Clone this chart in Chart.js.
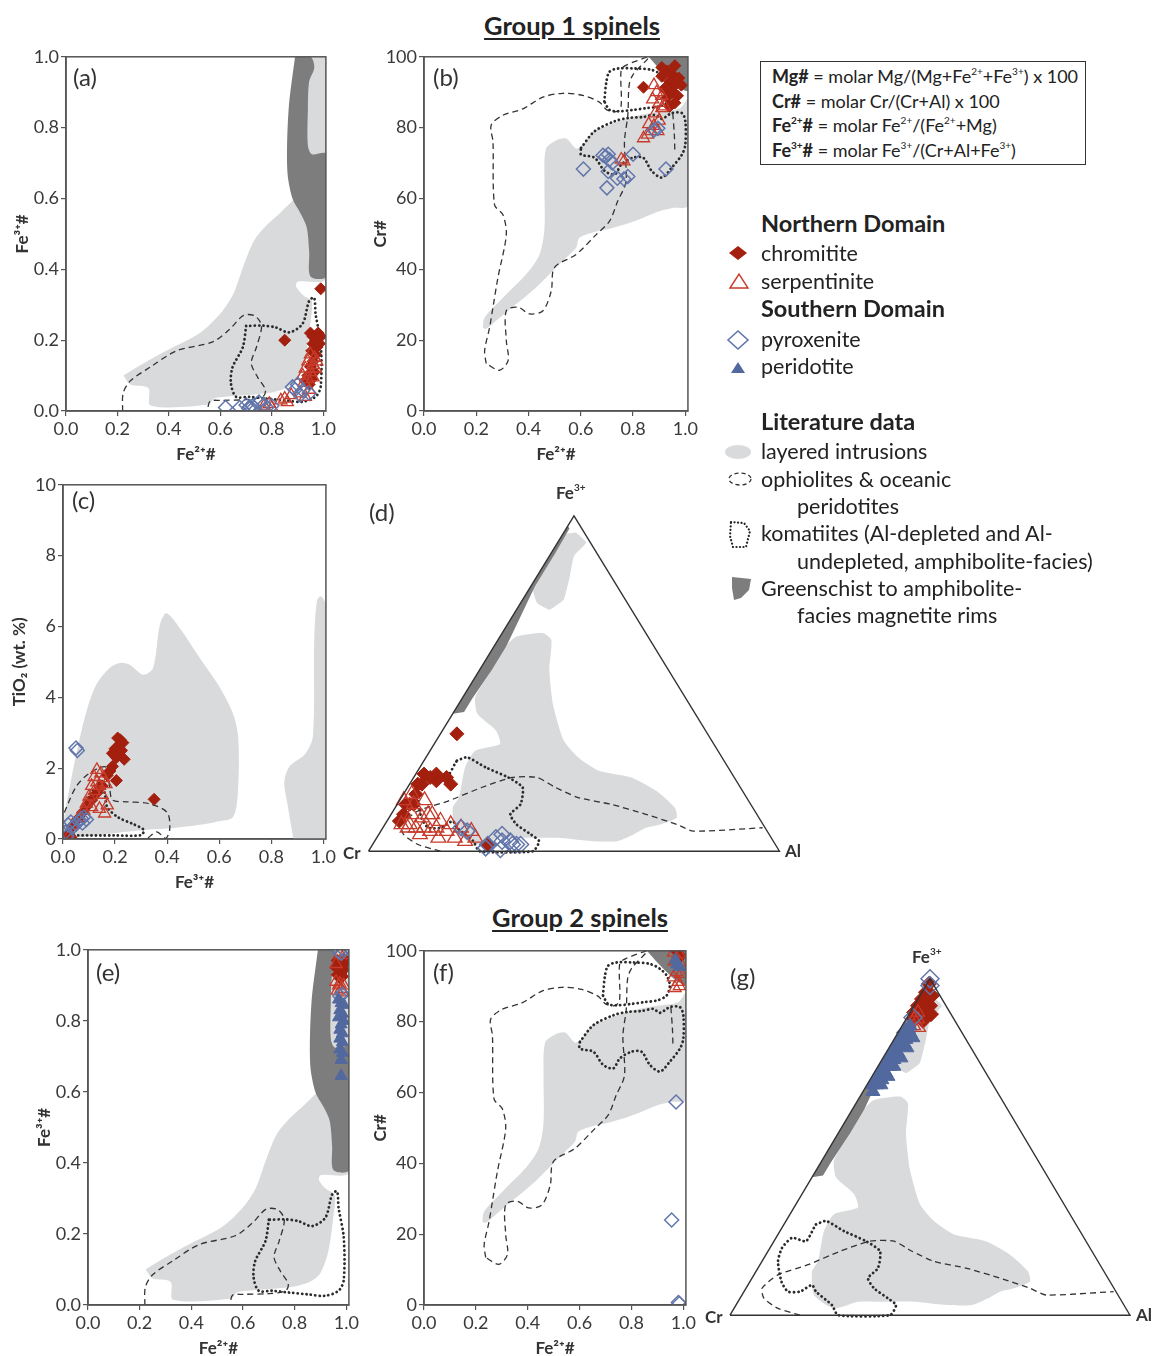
<!DOCTYPE html>
<html>
<head>
<meta charset="utf-8">
<script src="https://cdn.jsdelivr.net/npm/chart.js@4.4.1/dist/chart.umd.min.js"></script>
<style>
body{margin:0;background:#fff;width:1154px;height:1356px;position:relative;overflow:hidden;font-family:Lato,"Open Sans",sans-serif;color:#222}
canvas{position:absolute}
.t{position:absolute;white-space:nowrap}
.head{font-weight:700;font-size:25.5px;text-decoration:underline;text-underline-offset:3px;text-align:center;width:260px}
.lab{font-size:24px;color:#333}
.vx{font-weight:700;font-size:17px;color:#333}
.lg{font-size:21.5px;line-height:26px;left:761px}
.lg.b{font-weight:700;font-size:23.5px}
.lg.in{left:797px}
sup{font-size:10px;line-height:0;vertical-align:8px}
</style>
</head>
<body>

<div class="t head" style="left:442px;top:10px">Group 1 spinels</div>
<div class="t head" style="left:450px;top:902px">Group 2 spinels</div>

<canvas id="ca"></canvas>
<canvas id="cb"></canvas>
<canvas id="cc"></canvas>
<canvas id="cd"></canvas>
<canvas id="ce"></canvas>
<canvas id="cf"></canvas>
<canvas id="cg"></canvas>

<div class="t lab" style="left:73px;top:62px">(a)</div>
<div class="t lab" style="left:433px;top:62px">(b)</div>
<div class="t lab" style="left:72px;top:485px">(c)</div>
<div class="t lab" style="left:369px;top:497px">(d)</div>
<div class="t lab" style="left:96px;top:957px">(e)</div>
<div class="t lab" style="left:433px;top:957px">(f)</div>
<div class="t lab" style="left:730px;top:962px">(g)</div>

<div class="t vx" style="left:556px;top:482px">Fe<sup>3+</sup></div>
<div class="t vx" style="left:343px;top:842px">Cr</div>
<div class="t vx" style="left:785px;top:840px">Al</div>
<div class="t vx" style="left:912px;top:946px">Fe<sup>3+</sup></div>
<div class="t vx" style="left:705px;top:1306px">Cr</div>
<div class="t vx" style="left:1136px;top:1304px">Al</div>

<div class="t" style="left:760px;top:61px;width:326px;height:104px;border:1.3px solid #333;box-sizing:border-box">
  <div style="position:absolute;left:11px;top:2px;font-size:18px;line-height:24.5px">
    <b>Mg#</b> = molar Mg/(Mg+Fe<sup>2+</sup>+Fe<sup>3+</sup>) x 100<br>
    <b>Cr#</b> = molar Cr/(Cr+Al) x 100<br>
    <b>Fe<sup>2+</sup>#</b> = molar Fe<sup>2+</sup>/(Fe<sup>2+</sup>+Mg)<br>
    <b>Fe<sup>3+</sup>#</b> = molar Fe<sup>3+</sup>/(Cr+Al+Fe<sup>3+</sup>)
  </div>
</div>

<div class="t lg b" style="top:210px">Northern Domain</div>
<div class="t lg" style="top:240px">chromitite</div>
<div class="t lg" style="top:268px">serpentinite</div>
<div class="t lg b" style="top:295px">Southern Domain</div>
<div class="t lg" style="top:326px">pyroxenite</div>
<div class="t lg" style="top:353px">peridotite</div>
<div class="t lg b" style="top:408px">Literature data</div>
<div class="t lg" style="top:438px">layered intrusions</div>
<div class="t lg" style="top:466px">ophiolites &amp; oceanic</div>
<div class="t lg in" style="top:493px">peridotites</div>
<div class="t lg" style="top:520px">komatiites (Al-depleted and Al-</div>
<div class="t lg in" style="top:548px">undepleted, amphibolite-facies)</div>
<div class="t lg" style="top:575px">Greenschist to amphibolite-</div>
<div class="t lg in" style="top:602px">facies magnetite rims</div>

<svg style="position:absolute;left:720px;top:240px" width="40" height="370">
  <polygon points="9,13 18,6 27,13 18,20" fill="#a31f0e"/>
  <polygon points="10,48 19,34 28,48" fill="none" stroke="#c63b2b" stroke-width="1.4"/>
  <polygon points="8,100 18,91 28,100 18,109" fill="none" stroke="#6276ab" stroke-width="1.6"/>
  <polygon points="11,133 18,122 25,133" fill="#52699f"/>
  <ellipse cx="18" cy="212" rx="13" ry="7" fill="#d9dadb"/>
  <ellipse cx="20" cy="239" rx="11" ry="6" fill="none" stroke="#333" stroke-width="1.3" stroke-dasharray="4 3"/>
  <path d="M11,282 L24,283 L30,291 L26,307 L13,307 L10,296 Z" fill="none" stroke="#222" stroke-width="2.2" stroke-dasharray="0.1 3.4" stroke-linecap="round"/>
  <path d="M12,337 L31,339 L29,350 L21,358 L14,360 L12,348 Z" fill="#7d7d7d"/>
</svg>

<script>
// ---- tick values and labels
const FE_TICKS = [0, 0.2, 0.4, 0.6, 0.8, 1.0];
const FE_LABELS = ['0.0', '0.2', '0.4', '0.6', '0.8', '1.0'];
const CR_TICKS = [0, 20, 40, 60, 80, 100];
const CR_LABELS = ['0', '20', '40', '60', '80', '100'];
const TI_TICKS = [0, 2, 4, 6, 8, 10];
const TI_LABELS = ['0', '2', '4', '6', '8', '10'];

// ---- literature fields, Fe2+# vs Fe3+# (a, e)
const feLayered = [[0.223,0.10],[0.29,0.13],[0.39,0.17],[0.52,0.22],[0.60,0.275],[0.65,0.33],[0.69,0.41],[0.73,0.48],[0.78,0.525],[0.84,0.565],[0.90,0.62],[0.91,1.0],[1.01,1.0],[1.01,0.375],[0.90,0.365],[0.895,0.35],[0.925,0.325],[0.955,0.31],[0.95,0.25],[0.93,0.15],[0.90,0.09],[0.87,0.07],[0.83,0.058],[0.78,0.05],[0.70,0.045],[0.62,0.04],[0.575,0.035],[0.555,0.018],[0.33,0.015],[0.32,0.065],[0.25,0.075]];
const feDark = [[0.89,1.0],[0.95,1.0],[0.965,0.97],[0.945,0.93],[0.94,0.85],[0.94,0.75],[0.955,0.725],[1.01,0.725],[1.01,0.38],[0.95,0.38],[0.945,0.45],[0.935,0.52],[0.91,0.56],[0.88,0.60],[0.86,0.68],[0.865,0.85]];
const feOphiolite = [[0.22,0.0],[0.222,0.05],[0.25,0.085],[0.33,0.125],[0.43,0.17],[0.57,0.195],[0.635,0.23],[0.69,0.27],[0.735,0.268],[0.76,0.24],[0.74,0.18],[0.72,0.135],[0.745,0.095],[0.775,0.06],[0.765,0.04],[0.70,0.032],[0.60,0.03],[0.56,0.028],[0.55,0.005]];
const feKomatiite = [[0.70,0.24],[0.687,0.18],[0.647,0.123],[0.641,0.078],[0.661,0.04],[0.713,0.04],[0.78,0.035],[0.85,0.03],[0.918,0.026],[0.97,0.04],[0.99,0.07],[0.99,0.19],[0.97,0.274],[0.964,0.32],[0.945,0.311],[0.919,0.246],[0.867,0.222],[0.815,0.236],[0.764,0.241]];

// ---- literature fields, Fe2+# vs Cr# (b, f)
const crLayered = [[0.225,23.6],[0.232,26.4],[0.302,32],[0.391,38.6],[0.442,44.2],[0.461,51.7],[0.461,64.8],[0.467,74.1],[0.506,76.4],[0.544,76.9],[0.582,74.1],[0.607,75],[0.646,78.8],[0.70,80.5],[0.773,82.5],[0.85,83.9],[0.90,84.5],[0.98,85.5],[1.01,88],[1.01,58],[0.952,57.3],[0.90,56.4],[0.837,54.5],[0.786,53.1],[0.722,51.7],[0.659,50.7],[0.595,48.9],[0.582,46.1],[0.544,43.3],[0.48,38.6],[0.429,34.9],[0.353,30.2],[0.276,25.5],[0.238,23.2]];
const crDark = [[0.86,100],[1.01,100],[1.01,90.5],[0.975,91.5],[0.94,93.7],[0.89,97.5]];
const crOphiolite = [[0.238,13.4],[0.232,17],[0.251,23.6],[0.264,29.3],[0.283,37.7],[0.315,49.8],[0.302,55.4],[0.27,58.2],[0.264,76],[0.257,80.7],[0.302,83.5],[0.378,85.3],[0.455,88.6],[0.531,89.7],[0.608,89.1],[0.671,87.2],[0.70,85],[0.735,84.5],[0.754,86],[0.754,96],[0.77,97.5],[0.86,100],[0.80,95],[0.785,92],[0.78,83.5],[0.767,76],[0.773,64.8],[0.741,59.2],[0.71,53.6],[0.659,49.8],[0.582,44.2],[0.499,40.5],[0.487,33.9],[0.455,28.3],[0.404,27.4],[0.36,29.3],[0.315,28.3],[0.315,19.9],[0.322,14.3],[0.289,11.5]];
const crOphioliteB = [[0.952,84],[0.958,78],[0.96,73]];
const crKomatiiteA = [[0.69,87.4],[0.698,93],[0.71,95.8],[0.743,96.7],[0.807,96.7],[0.871,96.3],[0.91,94.9],[0.936,93],[0.948,90.2],[0.936,87.4],[0.90,86],[0.85,85.5],[0.80,85],[0.743,84.6],[0.71,85]];
const crKomatiiteB = [[0.601,74.3],[0.653,79],[0.73,81.8],[0.781,82.7],[0.84,83],[0.884,83.6],[0.91,82.5],[0.948,84.1],[0.987,84.1],[1.0,81.8],[1.0,75.2],[0.987,72.4],[0.948,68.7],[0.91,65.9],[0.871,67.8],[0.839,71.5],[0.80,71.5],[0.755,69.6],[0.73,66.8],[0.691,67.8],[0.653,71.5],[0.601,72.4]];

// ---- literature fields, Fe3+# vs TiO2 (c)
const tiLayered = [[0.0,0.0],[0.005,0.63],[0.026,1.47],[0.051,2.4],[0.09,3.6],[0.128,4.36],[0.179,4.83],[0.218,4.97],[0.256,4.92],[0.308,4.64],[0.346,4.83],[0.372,6.04],[0.397,6.37],[0.449,5.95],[0.526,5.1],[0.603,4.27],[0.654,3.52],[0.673,2.87],[0.673,1.47],[0.654,0.63],[0.59,0.49],[0.526,0.40],[0.423,0.31],[0.321,0.26],[0.205,0.17],[0.09,0.07],[0.013,0.0]];
const tiLayeredB = [[0.885,0],[0.862,1.0],[0.85,1.6],[0.87,2.05],[0.93,2.4],[0.96,2.9],[0.965,5.6],[0.975,6.7],[0.99,6.85],[1.01,6.6],[1.01,0]];
const tiOphiolite = [[0.005,0.75],[0.05,1.47],[0.1,1.85],[0.165,2.03],[0.18,1.4],[0.19,1.1],[0.245,1.05],[0.33,1.0],[0.4,0.75],[0.41,0.28],[0.395,0.02],[0.36,0.2],[0.325,0.02]];
const tiKomatiite = [[0.01,0.1],[0.05,0.6],[0.1,1.2],[0.14,1.6],[0.16,1.3],[0.17,0.9],[0.21,0.62],[0.27,0.42],[0.31,0.26],[0.30,0.11],[0.2,0.1],[0.05,0.1]];

// ---- literature fields, ternary Cr-Al-Fe3+ (d, g), [Cr, Al, Fe3+]
const ternTriangle = [[100,0,0],[0,100,0],[0,0,100],[100,0,0]];
const ternLayered = [[35,3,62],[32,4,64],[25,10,65],[24,13,63],[29,17,54],[33,23,43],[36,31,33],[35,37,28],[32,44,24],[25,53,22],[21,61,18],[19,68,13],[20,70,10],[25,67,8],[29,64,7],[33,62,5],[38,59,3],[44,53,3],[52,44,4],[60,36,4],[66,30,4],[73,25,2],[76,18,6],[73,14,13],[70,14,16],[64,11,25],[59,11,30],[52,16,32],[51,13,36],[53,6,41],[51,3,46],[43,3,54]];
const ternLayeredB = [[2,3,95],[1,7,92],[6,6,88],[10,8,82],[15,10,75],[20,8,72],[22,4,74],[21,1,78],[12,0.5,87.5],[5,0.5,94.5]];
const ternDark = [[3,0,97],[3,0.8,96.2],[10,1,89],[20,1,79],[28,2,70],[36,3,61],[43,3,54],[52,2.5,45.5],[56,2.5,41.5],[59,0,41]];
const ternOphiolite = [[82.5,17.5,0],[87,11,2],[89,6,5],[88,4,8],[82,6,12],[73,12,15],[63,18,19],[54,24,22],[48,30,22],[45,36,19],[41,43,16],[34,52,14],[27,62,11],[21,71,8],[18,76,6],[0.6,92.4,7]];
const ternKomatiite = [[65,8,27],[62,10,28],[59,16,25],[55,23,22],[53,28,19],[56,30,14],[60,29,11],[60,32,8],[58,37,5],[57,40,3],[60,40,0],[73,27,0],[73,24,3],[75,18,7],[75,16,9],[79,14,7],[82,11,7],[83,8,10],[80,4,16],[77,3,20],[73,4,23],[70,8,22],[66,8,26]];

// ---- samples, group 1
const aChromitite = [[0.85,0.20],[0.99,0.345],[0.95,0.22],[0.96,0.21],[0.97,0.20],[0.98,0.22],[0.99,0.21],[0.96,0.19],[0.975,0.18],[0.985,0.19],[0.955,0.17],[0.97,0.16],[0.96,0.14],[0.95,0.125],[0.965,0.11],[0.94,0.10],[0.955,0.09],[0.945,0.075],[0.93,0.085]];
const aSerpentinite = [[0.95,0.16],[0.965,0.15],[0.94,0.14],[0.96,0.13],[0.975,0.14],[0.93,0.12],[0.95,0.11],[0.97,0.12],[0.92,0.10],[0.94,0.09],[0.96,0.095],[0.925,0.08],[0.945,0.06],[0.91,0.05],[0.93,0.04],[0.875,0.045],[0.85,0.035],[0.835,0.03],[0.86,0.025],[0.79,0.02],[0.77,0.015],[0.80,0.01]];
const aPyroxenite = [[0.62,0.01],[0.675,0.01],[0.70,0.017],[0.71,0.008],[0.715,0.012],[0.725,0.015],[0.73,0.01],[0.75,0.025],[0.77,0.018],[0.78,0.01],[0.80,0.015],[0.88,0.068],[0.90,0.075],[0.89,0.06],[0.92,0.058],[0.945,0.05],[0.91,0.045]];

const bChromitite = [[0.84,91.4],[0.91,97],[0.93,96],[0.95,95],[0.96,97.5],[0.94,93],[0.96,92],[0.975,94],[0.92,91],[0.95,90],[0.97,89],[0.93,88.5],[0.96,87],[0.91,94.5],[0.985,92],[0.94,86]];
const bSerpentinite = [[0.88,92],[0.89,90],[0.875,88],[0.90,87],[0.91,85.5],[0.885,84],[0.90,82],[0.88,80.5],[0.87,79],[0.855,78],[0.84,77],[0.91,89],[0.92,86],[0.755,71],[0.765,70.5],[0.86,81],[0.895,79]];
const bPyroxenite = [[0.61,68.3],[0.685,72.2],[0.695,71.8],[0.705,72.5],[0.71,71],[0.80,72.5],[0.705,67.6],[0.70,63],[0.74,65.7],[0.765,65.5],[0.78,66.2],[0.926,68.3],[0.88,79.3],[0.895,79.8],[0.72,70]];

const cChromitite = [[0.21,2.85],[0.22,2.8],[0.23,2.72],[0.215,2.65],[0.2,2.55],[0.225,2.5],[0.19,2.42],[0.205,2.3],[0.235,2.25],[0.19,2.05],[0.18,1.92],[0.205,1.65],[0.35,1.12],[0.17,1.8],[0.15,1.5],[0.13,1.3],[0.11,1.1],[0.09,0.92],[0.075,0.75],[0.055,0.55],[0.035,0.35],[0.02,0.15],[0.03,0.05]];
const cSerpentinite = [[0.13,1.95],[0.145,1.85],[0.12,1.75],[0.155,1.72],[0.13,1.6],[0.11,1.5],[0.14,1.5],[0.165,1.55],[0.12,1.35],[0.1,1.2],[0.15,1.25],[0.09,1.0],[0.11,0.9],[0.14,0.85],[0.16,0.72],[0.08,0.8],[0.06,0.6],[0.04,0.4],[0.02,0.05],[0.17,0.95]];
const cPyroxenite = [[0.05,2.57],[0.055,2.5],[0.02,0.4],[0.03,0.48],[0.04,0.35],[0.06,0.5],[0.07,0.58],[0.08,0.62],[0.09,0.55],[0.01,0.2],[0.015,0.08],[0.05,0.42],[0.075,0.45]];

const dChromitite = [[61,4,35],[75,2,23],[72,5,23],[70,8,22],[70,10,20],[77,3,20],[80,3,17],[83,3,14],[86,3,11],[88,3,9],[70,28,2],[73,6,21],[82,4,14],[74,4,22],[78,2,20],[84,2,14]];
const dSerpentinite = [[83,1,15],[82,4,14],[78,6,15],[84,5,11],[82,8,10],[79,10,11],[78,13,9],[76,16,8],[88,4,8],[85,8,7],[82,12,6],[78,16,6],[74,19,7],[72,22,6],[77,19,4],[72,24,4],[75,22,3],[85,10,5],[81,15,4],[81,2,17],[86,6,8],[80,9,11],[87,6,7],[83,10,7],[80,13,7]];
const dPyroxenite = [[74,19,7],[73,21,6],[71,28,1],[67,29,4],[65,30,5],[64,33,3],[62,36,2],[68,32,0.5],[70,28,2],[64,34,2],[63,35,2],[66,31,3]];

// ---- samples, group 2
const eChromitite = [[0.965,0.97],[0.975,0.96],[0.985,0.955],[0.97,0.945],[0.98,0.935],[0.99,0.945],[0.965,0.93],[0.975,0.92],[0.985,0.925],[0.995,0.965],[0.96,0.95],[0.99,0.975]];
const eSerpentinite = [[0.96,0.91],[0.97,0.90],[0.98,0.89],[0.99,0.90],[0.965,0.885],[0.985,0.88],[0.975,0.99],[0.99,0.985],[0.96,0.96],[0.975,0.905]];
const ePyroxenite = [[0.97,0.995],[0.98,0.99],[0.99,1.0],[0.975,0.87],[0.985,0.875]];
const ePeridotite = [[0.97,0.86],[0.98,0.85],[0.99,0.845],[0.975,0.83],[0.985,0.82],[0.97,0.81],[0.99,0.80],[0.98,0.79],[0.975,0.775],[0.985,0.765],[0.975,0.75],[0.985,0.74],[0.975,0.72],[0.985,0.71],[0.98,0.69],[0.98,0.645]];

const fChromitite = [[0.975,99.8],[0.99,98.5]];
const fSerpentinite = [[0.962,99.5],[0.985,99],[0.987,96.7],[0.965,97],[0.974,94],[0.99,93.5],[0.962,92.5],[0.98,91.2],[0.968,89.5],[0.985,90]];
const fPyroxenite = [[0.972,57.3],[0.955,24],[0.981,0.7],[0.985,0.4]];
const fPeridotite = [[0.97,97.5],[0.985,95.5],[0.975,96.2]];

const gChromitite = [[1,0.5,98.5],[3,1,96],[4,2,94],[5,1,94],[6,2,92],[7,1,92],[8,2,90],[9,1,90],[5,3,92],[10,2,88],[3,2.5,94.5],[7,3,90],[4,4,92],[6,4.5,89.5],[8,4.5,87.5],[2,3,95],[5,5.5,89.5]];
const gSerpentinite = [[8,2,90],[9,3,88],[10,2,88],[11,3,86],[12,2,86],[10,4.5,85.5]];
const gPyroxenite = [[0,0,100],[1,1,98],[10,1.5,88.5],[14,2,84]];
const gPeridotite = [[12,2,86],[13,3,84],[14,1.5,84.5],[15,3,82],[16,1.5,82.5],[17,3,80],[18,1.5,80.5],[19,3,78],[20,1.5,78.5],[21,3,76],[22,1.5,76.5],[23,3,74],[24,1.5,74.5],[25,3,72],[26,1.5,72.5],[27,3,70],[28,1.5,70.5],[29,2.5,68.5],[30,1.5,68.5],[13,4.5,82.5],[16,4.5,79.5],[19,4.5,76.5],[22,4,74],[25,4,71],[28,3.5,68.5],[31,2.5,66.5]];

// ---- colours
const C_CHROM = '#a31f0e', C_SERP = '#c63b2b', C_PYRO = '#6276ab', C_PERI = '#52699f';
const C_LIGHT = '#d9dadb', C_DARK = '#7d7d7d', C_LINE = '#2b2b2b';

const xy = a => a.map(p => ({x: p[0], y: p[1]}));
const tern = a => a.map(p => { const s = p[0] + p[1] + p[2]; return {x: (p[1] + p[2] / 2) / s, y: p[2] / s}; });
const closed = a => a.concat([a[0]]);

function area(data, color, order, tension) {
  return {type: 'line', data, fill: 'shape', backgroundColor: color, borderWidth: 0, pointRadius: 0, tension: tension, order};
}
function dashed(data, order, tension) {
  return {type: 'line', data, fill: false, borderColor: '#333', borderWidth: 1.3, borderDash: [6, 4], pointRadius: 0, tension: tension, order};
}
function dotted(data, order, tension) {
  return {type: 'line', data, fill: false, borderColor: C_LINE, borderWidth: 2.8, borderDash: [0.1, 4.3], borderCapStyle: 'round', pointRadius: 0, tension: tension, order};
}
function chromitite(data, r) { return {data, pointStyle: 'rectRot', pointRadius: r || 6, backgroundColor: C_CHROM, borderColor: C_CHROM, borderWidth: 1, order: 4}; }
function serpentinite(data, r) { return {data, pointStyle: 'triangle', pointRadius: r || 7, backgroundColor: 'rgba(0,0,0,0)', borderColor: C_SERP, borderWidth: 1.3, order: 3}; }
function pyroxenite(data, r) { return {data, pointStyle: 'rectRot', pointRadius: r || 7, backgroundColor: 'rgba(0,0,0,0)', borderColor: C_PYRO, borderWidth: 1.5, order: 2}; }
function peridotite(data, r) { return {data, pointStyle: 'triangle', pointRadius: r || 7, backgroundColor: C_PERI, borderColor: C_PERI, borderWidth: 1, order: 1}; }

// outer frame on all 4 sides
const framePlugin = {
  id: 'frame',
  afterDatasetsDraw(chart) {
    const {ctx, chartArea: a} = chart;
    ctx.save();
    ctx.strokeStyle = '#555';
    ctx.lineWidth = 1.5;
    ctx.strokeRect(a.left, a.top, a.right - a.left, a.bottom - a.top);
    ctx.restore();
  }
};

function axis(pos, min, max, ticks, labels, title) {
  return {
    type: 'linear', position: pos, min, max,
    afterBuildTicks: s => { s.ticks = ticks.map(v => ({value: v})); },
    afterFit: s => { if (pos === 'bottom') s.height = 55; else s.width = 56; },
    ticks: {callback: (v, i) => labels[i], font: {family: 'Lato', size: 18}, color: '#3a3a3a', padding: 2, autoSkip: false, maxRotation: 0},
    grid: {display: true, drawOnChartArea: false, drawTicks: true, tickLength: 5, color: '#555', lineWidth: 1.2},
    border: {display: true, color: '#555', width: 1.5},
    title: {display: true, text: title, font: {family: 'Lato', size: 17, weight: 'bold'}, color: '#333', padding: {top: 2, bottom: 1}}
  };
}

function cartChart(id, box, xAxis, yAxis, datasets) {
  const cv = document.getElementById(id);
  cv.width = box.r - box.l + 56 + 12;
  cv.height = box.b - box.t + 10 + 55;
  cv.style.left = (box.l - 56) + 'px';
  cv.style.top = (box.t - 10) + 'px';
  new Chart(cv, {
    type: 'scatter',
    data: {datasets},
    options: {
      responsive: false, animation: false,
      layout: {autoPadding: false, padding: {top: 10, right: 12, left: 0, bottom: 0}},
      scales: {x: xAxis, y: yAxis},
      plugins: {legend: {display: false}, tooltip: {enabled: false}}
    },
    plugins: [framePlugin]
  });
}

// box: Cr corner (x,y) in px, triangle width/height in px
function ternChart(id, box, datasets) {
  const cv = document.getElementById(id);
  cv.width = Math.round(box.w * 1.1);
  cv.height = Math.round(box.h * 1.1);
  cv.style.left = Math.round(box.x - box.w * 0.05) + 'px';
  cv.style.top = Math.round(box.y - box.h * 1.05) + 'px';
  new Chart(cv, {
    type: 'scatter',
    data: {datasets},
    options: {
      responsive: false, animation: false,
      layout: {autoPadding: false, padding: 0},
      scales: {
        x: {type: 'linear', min: -0.05, max: 1.05, display: false},
        y: {type: 'linear', min: -0.05, max: 1.05, display: false}
      },
      plugins: {legend: {display: false}, tooltip: {enabled: false}}
    }
  });
}

function feFields() {
  return [
    area(closed(xy(feLayered)), C_LIGHT, 10, 0.3),
    area(closed(xy(feDark)), C_DARK, 9, 0.3),
    dashed(xy(feOphiolite), 8, 0.3),
    dotted(closed(xy(feKomatiite)), 7, 0.3)
  ];
}
function crFields() {
  return [
    area(closed(xy(crLayered)), C_LIGHT, 10, 0.3),
    area(closed(xy(crDark)), C_DARK, 9, 0.3),
    dashed(closed(xy(crOphiolite)), 8, 0.3),
    dashed(xy(crOphioliteB), 8, 0.3),
    dotted(closed(xy(crKomatiiteA)), 7, 0.3),
    dotted(closed(xy(crKomatiiteB)), 7, 0.3)
  ];
}
function ternFields() {
  return [
    area(closed(tern(ternLayered)), C_LIGHT, 10, 0.2),
    area(closed(tern(ternLayeredB)), C_LIGHT, 10, 0.1),
    area(closed(tern(ternDark)), C_DARK, 9, 0),
    dashed(tern(ternOphiolite), 8, 0.2),
    dotted(closed(tern(ternKomatiite)), 7, 0.2),
    {type: 'line', data: tern(ternTriangle), fill: false, borderColor: '#333', borderWidth: 1.4, pointRadius: 0, tension: 0, order: 0}
  ];
}

const FE2 = 'Fe²⁺#', FE3 = 'Fe³⁺#';

cartChart('ca', {l: 66, t: 54, r: 326, b: 411},
  axis('bottom', 0, 1.01, FE_TICKS, FE_LABELS, FE2),
  axis('left', 0, 1.0, FE_TICKS, FE_LABELS, FE3),
  feFields().concat([chromitite(xy(aChromitite)), serpentinite(xy(aSerpentinite)), pyroxenite(xy(aPyroxenite))]));

cartChart('cb', {l: 424, t: 54, r: 688, b: 411},
  axis('bottom', 0, 1.01, FE_TICKS, FE_LABELS, FE2),
  axis('left', 0, 100, CR_TICKS, CR_LABELS, 'Cr#'),
  crFields().concat([chromitite(xy(bChromitite)), serpentinite(xy(bSerpentinite)), pyroxenite(xy(bPyroxenite))]));

cartChart('cc', {l: 63, t: 482, r: 326, b: 839},
  axis('bottom', 0, 1.01, FE_TICKS, FE_LABELS, FE3),
  axis('left', 0, 10, TI_TICKS, TI_LABELS, 'TiO₂ (wt. %)'),
  [
    area(closed(xy(tiLayered)), C_LIGHT, 10, 0.3),
    area(closed(xy(tiLayeredB)), C_LIGHT, 10, 0.3),
    dashed(xy(tiOphiolite), 8, 0.3),
    dotted(closed(xy(tiKomatiite)), 7, 0.3),
    chromitite(xy(cChromitite)), serpentinite(xy(cSerpentinite)), pyroxenite(xy(cPyroxenite))
  ]);

ternChart('cd', {x: 368.3, y: 851.7, w: 411, h: 335.7},
  ternFields().concat([chromitite(tern(dChromitite), 7), serpentinite(tern(dSerpentinite), 8.5), pyroxenite(tern(dPyroxenite), 8)]));

cartChart('ce', {l: 88, t: 947, r: 349, b: 1305},
  axis('bottom', 0, 1.01, FE_TICKS, FE_LABELS, FE2),
  axis('left', 0, 1.0, FE_TICKS, FE_LABELS, FE3),
  feFields().concat([chromitite(xy(eChromitite)), serpentinite(xy(eSerpentinite)), pyroxenite(xy(ePyroxenite)), peridotite(xy(ePeridotite))]));

cartChart('cf', {l: 424, t: 948, r: 686, b: 1305},
  axis('bottom', 0, 1.01, FE_TICKS, FE_LABELS, FE2),
  axis('left', 0, 100, CR_TICKS, CR_LABELS, 'Cr#'),
  crFields().concat([chromitite(xy(fChromitite)), serpentinite(xy(fSerpentinite)), pyroxenite(xy(fPyroxenite)), peridotite(xy(fPeridotite))]));

ternChart('cg', {x: 730, y: 1315.7, w: 400, h: 336.4},
  ternFields().concat([chromitite(tern(gChromitite), 7.5), serpentinite(tern(gSerpentinite), 7.5), pyroxenite(tern(gPyroxenite), 9), peridotite(tern(gPeridotite), 8)]));
</script>
</body>
</html>
